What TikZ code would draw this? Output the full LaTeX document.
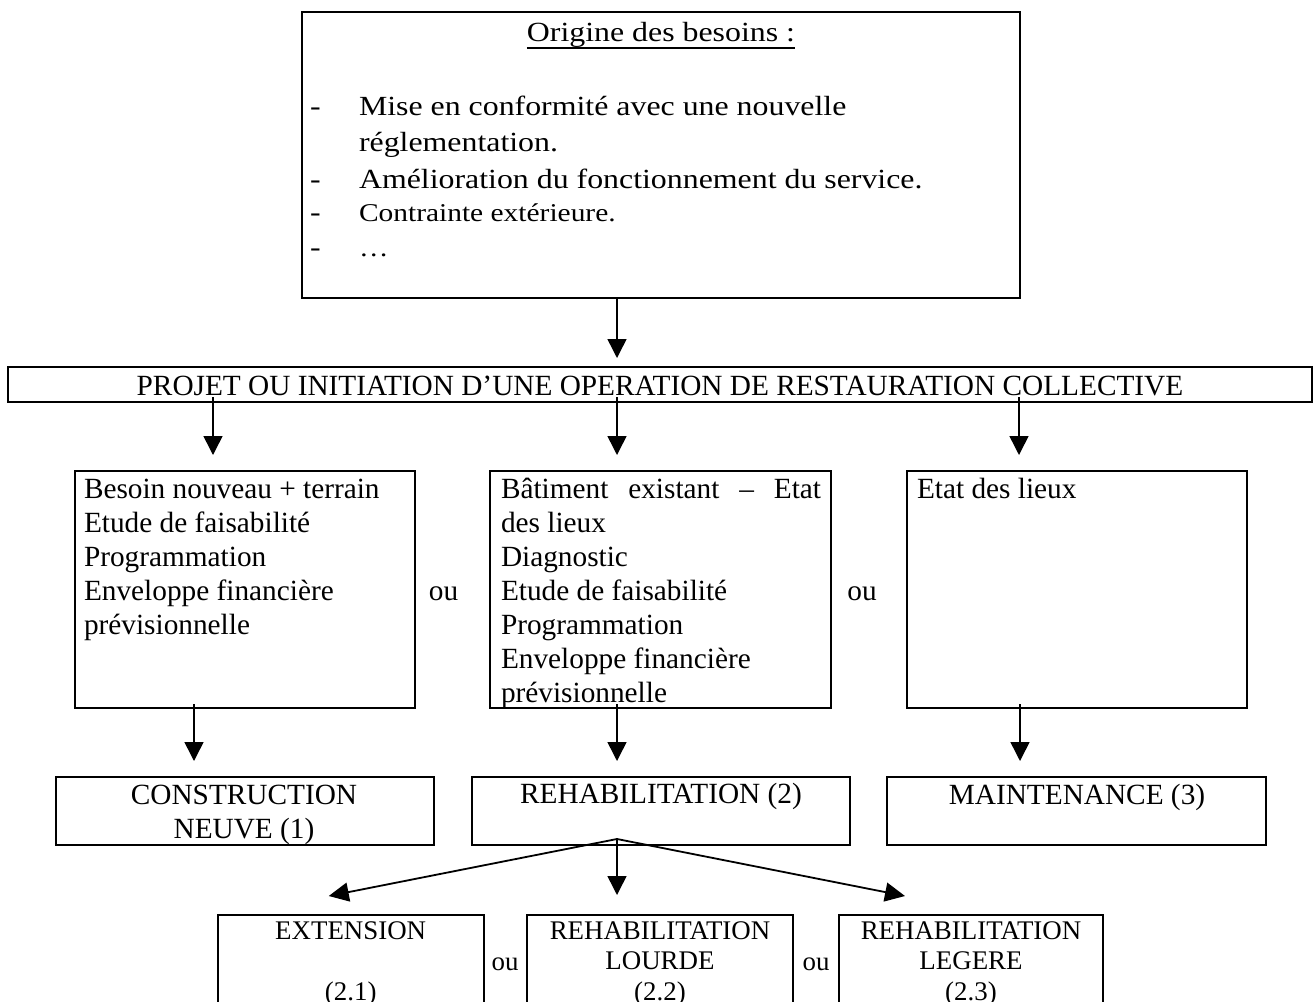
\documentclass[tikz,border=0pt]{standalone}
\usepackage{fontspec}
\setmainfont{Liberation Serif}
\newfontfamily\widefont[FakeStretch=1.15]{Liberation Serif}
\usetikzlibrary{arrows.meta,calc}
\newcommand\LeftLines[1]{\vtop{\halign{##\hfil\cr#1\crcr}}}
\newcommand\MidLines[1]{\vtop{\halign{\hfil##\hfil\cr#1\crcr}}}
\begin{document}
\begin{tikzpicture}[x=1pt,y=-1pt,
  frame/.style={draw, line width=2pt, inner sep=0pt, outer sep=0pt, anchor=north west},
  txt/.style={inner sep=0pt, outer sep=0pt, font=\fontsize{29.3}{34}\selectfont},
  txtsm/.style={inner sep=0pt, outer sep=0pt, font=\fontsize{26.9}{30.5}\selectfont},
  txtwide/.style={inner sep=0pt, outer sep=0pt, font=\widefont\fontsize{27.7}{36.7}\selectfont},
  txtwidesm/.style={inner sep=0pt, outer sep=0pt, font=\widefont\fontsize{25.6}{33}\selectfont},
  arr/.style={line width=1.5pt, -{Triangle[width=19pt,length=19pt]}},
  fan/.style={line width=1.8pt, -{Triangle[width=19pt,length=20pt]}}]
\useasboundingbox (0,0) rectangle (1314,1001);
\fill[white] (0,0) rectangle (1314,1001);
\clip (0,0) rectangle (1314,1001);

% boxes
\node[frame, minimum width=718pt, minimum height=286pt] (top) at (302,12) {};
\node[frame, minimum width=1304pt, minimum height=35pt] (proj) at (8,367) {};
\node[frame, minimum width=340pt, minimum height=237pt] (b1) at (75,471) {};
\node[frame, minimum width=341pt, minimum height=237pt] (b2) at (490,471) {};
\node[frame, minimum width=340pt, minimum height=237pt] (b3) at (907,471) {};
\node[frame, minimum width=378pt, minimum height=68pt] (c1) at (56,777) {};
\node[frame, minimum width=378pt, minimum height=68pt] (c2) at (472,777) {};
\node[frame, minimum width=379pt, minimum height=68pt] (c3) at (887,777) {};
\node[frame, minimum width=265.5pt, minimum height=150pt] (d1) at (218,915) {};
\node[frame, minimum width=266pt, minimum height=150pt] (d2) at (527,915) {};
\node[frame, minimum width=264pt, minimum height=150pt] (d3) at (839,915) {};

% top box texts
\node[txtwide, anchor=base] (title) at (661,41.7) {Origine des besoins :};
\draw[line width=1.5pt] ($(title.base west)+(0,6.5)$) -- ($(title.base east)+(0,6.5)$);
\node[txtwide, anchor=base west] (dash1) at (310,115) {-};
\node[txtwide, anchor=base west] (dash2) at (310,188.3) {-};
\node[txtwide, anchor=base west] (dash3) at (310,221.7) {-};
\node[txtwide, anchor=base west] (dash4) at (310,256.7) {-};
\node[txtwide, anchor=base west] (l1) at (359,115) {Mise en conformité avec une nouvelle};
\node[txtwide, anchor=base west] (l1b) at (359,151.7) {réglementation.};
\node[txtwide, anchor=base west] (l2) at (359,188.3) {Amélioration du fonctionnement du service.};
\node[txtwidesm, anchor=base west] (l3) at (359,221.7) {Contrainte extérieure.};
\node[txtwidesm, anchor=base west] (l4) at (359,256.7) {…};

% project bar
\node[txt, anchor=base] (projtxt) at (660,395) {PROJET OU INITIATION D’UNE OPERATION DE RESTAURATION COLLECTIVE};

% second row texts
\node[txt, anchor=base west] (b1txt) at (84,498) {\LeftLines{Besoin nouveau + terrain\cr Etude de faisabilité\cr Programmation\cr Enveloppe financière\cr prévisionnelle}};
\node[txt, anchor=base west] (b2txt) at (501,498) {\LeftLines{\hbox to 320pt{Bâtiment\hfill existant\hfill –\hfill Etat}\cr des lieux\cr Diagnostic\cr Etude de faisabilité\cr Programmation\cr Enveloppe financière\cr prévisionnelle}};
\node[txt, anchor=base west] (b3txt) at (917,498) {Etat des lieux};
\node[txt, anchor=base] (ou1) at (443.6,600) {ou};
\node[txt, anchor=base] (ou2) at (862,600) {ou};

% third row texts
\node[txt, anchor=base] (c1txt) at (244,804) {\MidLines{CONSTRUCTION\cr NEUVE (1)}};
\node[txt, anchor=base] (c2txt) at (661,803) {REHABILITATION (2)};
\node[txt, anchor=base] (c3txt) at (1077,804) {MAINTENANCE (3)};

% bottom row texts
\node[txtsm, anchor=base] (d1txt) at (350.7,939) {\MidLines{EXTENSION\cr\cr (2.1)}};
\node[txtsm, anchor=base] (d2txt) at (660,939) {\MidLines{REHABILITATION\cr LOURDE\cr (2.2)}};
\node[txtsm, anchor=base] (d3txt) at (971,939) {\MidLines{REHABILITATION\cr LEGERE\cr (2.3)}};
\node[txtsm, anchor=base] (ou3) at (505,970) {ou};
\node[txtsm, anchor=base] (ou4) at (816,970) {ou};

% connectors
\coordinate (xa) at (617,0);
\coordinate (xl) at (213,0);
\coordinate (xr) at (1019,0);
\coordinate (xl2) at (194,0);
\coordinate (xr2) at (1020,0);
\draw[arr] (top.south -| xa) -- ($(proj.north -| xa)+(0,-9)$);
\draw[arr] ($(proj.south -| xl)+(0,-5)$) -- ($(b1.north -| xl)+(0,-16)$);
\draw[arr] ($(proj.south -| xa)+(0,-5)$) -- ($(b2.north -| xa)+(0,-16)$);
\draw[arr] ($(proj.south -| xr)+(0,-5)$) -- ($(b3.north -| xr)+(0,-16)$);
\draw[arr] ($(b1.south -| xl2)+(0,-4)$) -- ($(c1.north -| xl2)+(0,-16)$);
\draw[arr] ($(b2.south -| xa)+(0,-4)$) -- ($(c2.north -| xa)+(0,-16)$);
\draw[arr] ($(b3.south -| xr2)+(0,-4)$) -- ($(c3.north -| xr2)+(0,-16)$);
\coordinate (fanroot) at ($(c2.south -| xa)+(0,-6)$);
\draw[fan] (fanroot) -- ($(d1.north)+(-22,-19)$);
\draw[arr] (fanroot) -- ($(d2.north -| xa)+(0,-20)$);
\draw[fan] (fanroot) -- ($(d3.north)+(-66,-19)$);
\end{tikzpicture}
\end{document}
